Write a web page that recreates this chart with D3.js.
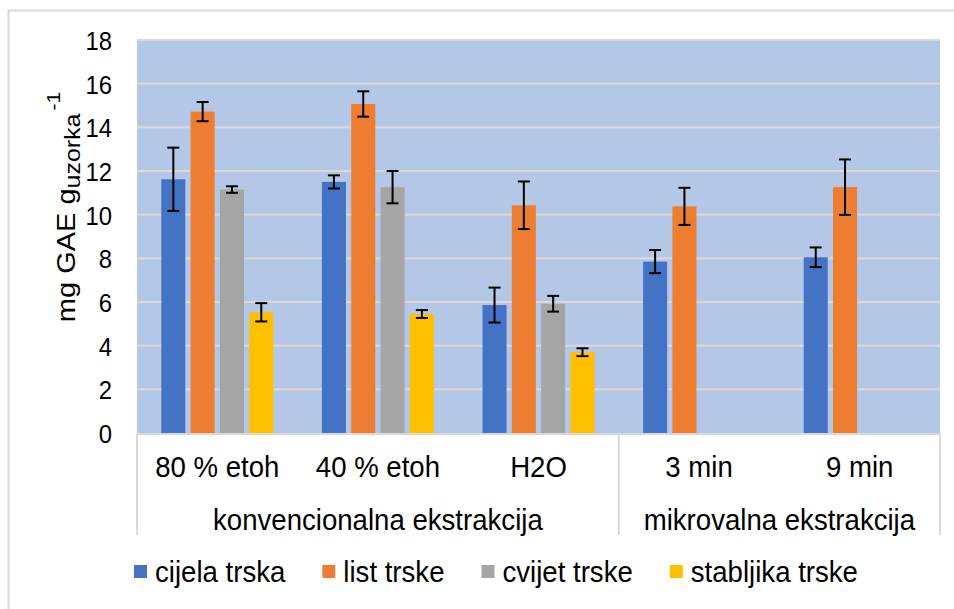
<!DOCTYPE html>
<html>
<head>
<meta charset="utf-8">
<script src="https://cdn.jsdelivr.net/npm/d3@7"></script>
<style>
  html, body { margin: 0; padding: 0; background: #ffffff; }
  svg { display: block; font-family: "Liberation Sans", Arial, sans-serif; }
</style>
</head>
<body>
<svg id="chart" width="954" height="609"></svg>
<script>
const categories = ["80 % etoh", "40 % etoh", "H2O", "3 min", "9 min"];
const groups = [
  { label: "konvencionalna ekstrakcija", from: 0, to: 3 },
  { label: "mikrovalna ekstrakcija", from: 3, to: 5 }
];
const seriesNames = ["cijela trska", "list trske", "cvijet trske", "stabljika trske"];
const seriesColors = ["#4472c4", "#ed7d31", "#a5a5a5", "#ffc000"];
const cijelaTrska = [11.62, 11.50, 5.86, 7.85, 8.05];
const listTrske = [14.72, 15.07, 10.43, 10.38, 11.26];
const cvijetTrske = [11.15, 11.26, 5.92, null, null];
const stabljikaTrske = [5.53, 5.45, 3.70, null, null];
const cijelaErr = [1.45, 0.30, 0.80, 0.53, 0.45];
const listErr = [0.44, 0.58, 1.09, 0.85, 1.27];
const cvijetErr = [0.15, 0.74, 0.36, null, null];
const stabljikaErr = [0.42, 0.18, 0.18, null, null];
const yTicks = [0, 2, 4, 6, 8, 10, 12, 14, 16, 18];

const values = [cijelaTrska, listTrske, cvijetTrske, stabljikaTrske];
const errors = [cijelaErr, listErr, cvijetErr, stabljikaErr];

const svg = d3.select("#chart");
const plot = { left: 137, right: 940, top: 40, bottom: 433 };
const FS = 30, SX = 0.92;

// outer border
svg.append("rect").attr("x", 8.5).attr("y", 10.5).attr("width", 960).attr("height", 640)
  .attr("fill", "#fff").attr("stroke", "#d9d9d9").attr("stroke-width", 2);

const x = d3.scaleBand().domain(d3.range(categories.length)).range([plot.left, plot.right]).padding(0);
const x1 = d3.scaleBand().domain(d3.range(seriesNames.length))
  .range([0, 112]).paddingInner(0.18).paddingOuter(0);
const y = d3.scaleLinear().domain([0, 18]).range([plot.bottom, plot.top]);

// plot background
svg.append("rect").attr("x", plot.left).attr("y", plot.top)
  .attr("width", plot.right - plot.left).attr("height", plot.bottom - plot.top)
  .attr("fill", "#b4c7e7");

// gridlines
svg.append("g").selectAll("line").data(yTicks.filter(d => d > 0)).join("line")
  .attr("x1", plot.left).attr("x2", plot.right)
  .attr("y1", d => y(d)).attr("y2", d => y(d))
  .attr("stroke", "#d9d9d9").attr("stroke-width", 2);

// y axis labels
const yAxis = d3.axisLeft(y).tickValues(yTicks).tickSize(0).tickPadding(0);
const yg = svg.append("g").attr("transform", `translate(112,0)`).call(yAxis);
yg.select(".domain").remove();
yg.selectAll("text").attr("font-size", 26.5).attr("fill", "#000")
  .attr("font-family", "Liberation Sans, Arial, sans-serif").attr("dy", "0.36em")
  .attr("transform", "scale(0.9,1)");

// bars
const groupOffset = (x.bandwidth() - 112) / 2;
seriesNames.forEach((name, si) => {
  const g = svg.append("g");
  const data = values[si].map((v, ci) => ({ v, ci, e: errors[si][ci] })).filter(d => d.v != null);
  g.selectAll("rect").data(data).join("rect")
    .attr("x", d => x(d.ci) + groupOffset + x1(si))
    .attr("width", x1.bandwidth())
    .attr("y", d => y(d.v))
    .attr("height", d => y(0) - y(d.v))
    .attr("fill", seriesColors[si]);
  const eg = svg.append("g").attr("stroke", "#000").attr("stroke-width", 2);
  data.forEach(d => {
    const cx = x(d.ci) + groupOffset + x1(si) + x1.bandwidth() / 2;
    eg.append("line").attr("x1", cx).attr("x2", cx).attr("y1", y(d.v + d.e)).attr("y2", y(d.v - d.e));
    eg.append("line").attr("x1", cx - 6).attr("x2", cx + 6).attr("y1", y(d.v + d.e)).attr("y2", y(d.v + d.e));
    eg.append("line").attr("x1", cx - 6).attr("x2", cx + 6).attr("y1", y(d.v - d.e)).attr("y2", y(d.v - d.e));
  });
});

// category axis lines
const sepX = [plot.left, x(3), plot.right];
svg.append("g").selectAll("line").data(sepX).join("line")
  .attr("x1", d => d).attr("x2", d => d).attr("y1", plot.bottom).attr("y2", 535)
  .attr("stroke", "#d9d9d9").attr("stroke-width", 2);
svg.append("line").attr("x1", plot.left).attr("x2", plot.right)
  .attr("y1", plot.bottom + 1).attr("y2", plot.bottom + 1)
  .attr("stroke", "#d9d9d9").attr("stroke-width", 2);

// category labels
svg.append("g").selectAll("text").data(categories).join("text")
  .attr("transform", (d, i) => `translate(${x(i) + x.bandwidth() / 2},477) scale(${SX},1)`)
  .attr("text-anchor", "middle").attr("font-size", FS).attr("fill", "#000")
  .text(d => d);

// group labels
svg.append("g").selectAll("text").data(groups).join("text")
  .attr("transform", d => `translate(${(x(d.from) + (d.to < categories.length ? x(d.to) : plot.right)) / 2},530) scale(${SX},1)`)
  .attr("text-anchor", "middle").attr("font-size", FS).attr("fill", "#000")
  .text(d => d.label);

// y title
const yt = svg.append("text").attr("transform", "translate(75,207) scale(0.9,1) rotate(-90)")
  .attr("text-anchor", "middle").attr("font-size", 29).attr("fill", "#000");
yt.append("tspan").text("mg GAE g");
yt.append("tspan").attr("font-size", 25).attr("dy", 6).text("uzorka");
yt.append("tspan").attr("font-size", 21).attr("dy", -23).attr("dx", 3).text("-1");

// legend: entries laid out left to right, square + label, constant gap
const lg = svg.append("g");
let lx = 134;
seriesNames.forEach((name, i) => {
  const g = lg.append("g").attr("transform", `translate(${lx},565)`);
  g.append("rect").attr("width", 13).attr("height", 13).attr("fill", seriesColors[i]);
  const t = g.append("text").attr("transform", `translate(21,17) scale(${SX},1)`)
    .attr("font-size", FS).attr("fill", "#000").text(name);
  lx += 21 + t.node().getComputedTextLength() * SX + 37;
});
</script>
</body>
</html>
